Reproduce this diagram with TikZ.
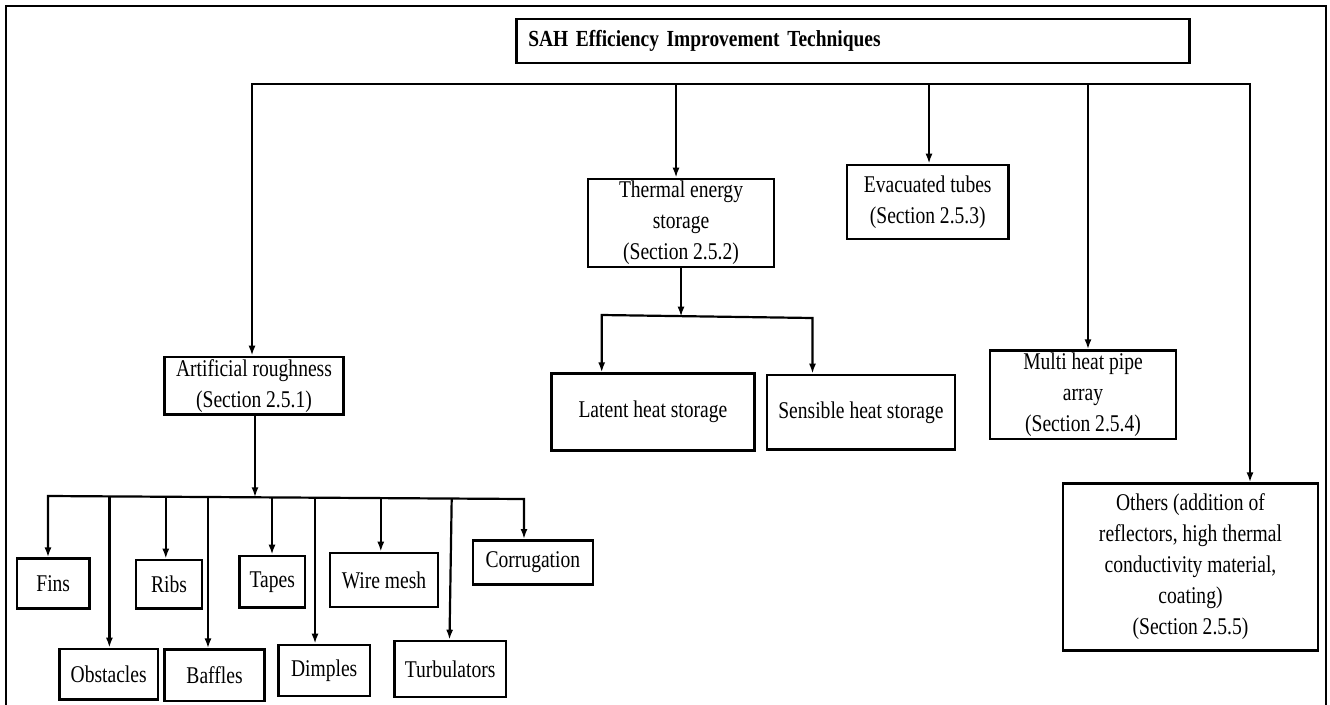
\documentclass[tikz,border=0pt]{standalone}
\usepackage{fontspec}
\setmainfont{Liberation Serif}[FakeStretch=0.815]
\newfontfamily\titlefont{Liberation Serif}[FakeStretch=0.845]
\usetikzlibrary{arrows.meta}
\begin{document}
\begin{tikzpicture}[x=1pt,y=-1pt,
  box/.style={draw, line width=2.6pt, inner sep=0pt, align=center,
    font=\fontsize{24}{31}\selectfont},
  conn/.style={line width=2.2pt, line join=miter},
  arr/.style={conn, -{Latex[length=10pt,width=7pt]}},
  arrs/.style={conn, {Latex[length=10pt,width=7pt]}-{Latex[length=10pt,width=7pt]}},
  frame/.style={line width=2.5pt}
]
\useasboundingbox (0,0) rectangle (1330,704);
% outer frame
\draw[frame] (6,706) -- (6,6) -- (1326,6) -- (1326,706);

% title
\node[box, minimum height=44pt, text width=650pt, inner xsep=11.5pt, align=left,
  font=\titlefont\fontsize{23}{31}\selectfont\bfseries] (title) at (853.25,41)
  {SAH Efficiency Improvement Techniques};

% level 1
\node[box, minimum width=179pt, minimum height=57.7pt] (art) at (254,385.85)
  {Artificial roughness\\(Section 2.5.1)};
\node[box, minimum width=186pt, minimum height=88pt] (tes) at (681,223)
  {Thermal energy\\storage\\(Section 2.5.2)};
\node[box, minimum width=161.5pt, minimum height=74pt] (evac) at (927.75,202)
  {Evacuated tubes\\(Section 2.5.3)};
\node[box, minimum width=186pt, minimum height=88.3pt] (multi) at (1083,394.85)
  {Multi heat pipe\\array\\(Section 2.5.4)};
\node[box, minimum width=255pt, minimum height=166.6pt] (oth) at (1190.5,567)
  {Others (addition of\\reflectors, high thermal\\conductivity material,\\coating)\\(Section 2.5.5)};

% thermal storage children
\node[box, minimum width=203.2pt, minimum height=77pt] (lat) at (652.9,412.2)
  {Latent heat storage};
\node[box, minimum width=188.2pt, minimum height=74.7pt] (sen) at (860.9,412.35)
  {Sensible heat storage};

% artificial roughness children
\node[box, minimum width=72.5pt, minimum height=50pt] (fins) at (53.25,583.7) {Fins};
\node[box, minimum width=98.6pt, minimum height=50.7pt] (obs) at (108.7,674.35) {Obstacles};
\node[box, minimum width=66pt, minimum height=48.7pt] (ribs) at (169,584.35) {Ribs};
\node[box, minimum width=100.1pt, minimum height=51.3pt] (baf) at (214.55,675.35) {Baffles};
\node[box, minimum width=65.4pt, minimum height=51.7pt] (tap) at (272.3,581.85) {Tapes};
\node[box, minimum width=91.2pt, minimum height=51pt] (dim) at (324.2,670.5) {Dimples};
\node[box, minimum width=108pt, minimum height=54pt] (wire) at (384,580) {Wire mesh};
\node[box, minimum width=111.6pt, minimum height=56pt] (tur) at (450.2,669) {Turbulators};
\node[box, minimum width=120pt, minimum height=44pt] (cor) at (532.9,562.3) {Corrugation};

% main bus
\coordinate (busL) at (252,84);
\coordinate (busR) at (1250,84);
\coordinate (m2) at (676,84);
\coordinate (m3) at (929,84);
\coordinate (m4) at (1088,84);
\draw[arrs] (art.north -| busL) -- (busL) -- (busR) -- (busR |- oth.north);
\draw[arr] (m2) -- (tes.north -| m2);
\draw[arr] (m3) -- (evac.north -| m3);
\draw[arr] (m4) -- (multi.north -| m4);

% thermal sub bus
\coordinate (tL) at (601.7,315);
\coordinate (tR) at (812.5,318);
\coordinate (tj) at (681,316.7);
\draw[arr] (tes.south) -- (tj);
\draw[arrs] (lat.north -| tL) -- (tL) -- (tR) -- (tR |- sen.north);

% artificial sub bus
\coordinate (sbL) at (48,496);
\coordinate (sbR) at (524,499);
\coordinate (aj) at (255,497.3);
\coordinate (d2) at (109.4,496.4);
\coordinate (d3) at (165.8,496.7);
\coordinate (d4) at (208,497);
\coordinate (d5) at (272,497.4);
\coordinate (d6) at (315,497.7);
\coordinate (d7) at (380.8,498.1);
\coordinate (d8) at (451.7,498.5);
\coordinate (d8b) at (449.5,0);
\draw[arr] (art.south -| aj) -- (aj);
\draw[arrs] (fins.north -| sbL) -- (sbL) -- (sbR) -- (sbR |- cor.north);
\draw[arr] (d2) -- (obs.north -| d2);
\draw[arr] (d3) -- (ribs.north -| d3);
\draw[arr] (d4) -- (baf.north -| d4);
\draw[arr] (d5) -- (tap.north -| d5);
\draw[arr] (d6) -- (dim.north -| d6);
\draw[arr] (d7) -- (wire.north -| d7);
\draw[arr] (d8) -- (tur.north -| d8b);
\end{tikzpicture}
\end{document}
